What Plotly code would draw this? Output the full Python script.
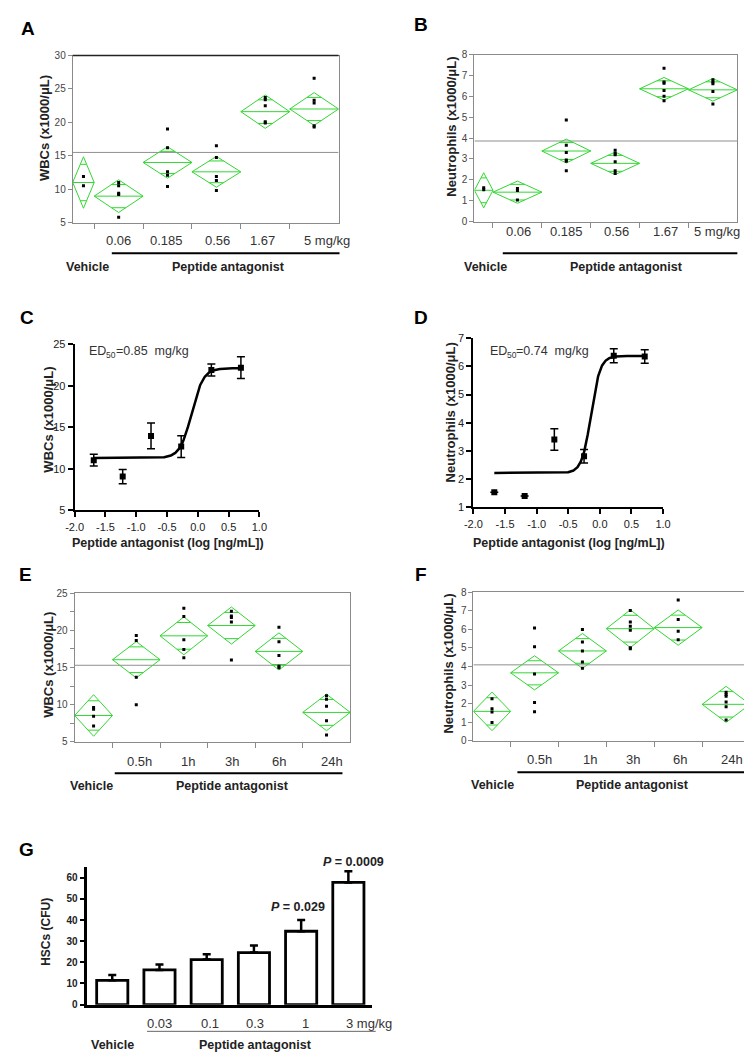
import numpy as np
import plotly.graph_objects as go

W, H = 752, 1058
FONT = "Arial, Liberation Sans, sans-serif"
NARROW = "Liberation Sans Narrow, Arial Narrow, Liberation Sans, sans-serif"
GREEN = "#33d633"

# ------------------------------------------------------------------ data
# Panel A: WBCs by dose (means diamonds)
A_LABELS = ["0.06", "0.185", "0.56", "1.67", "5 mg/kg"]
A_MEANS = [11.0, 8.96, 14.0, 12.6, 21.6, 22.0]
A_CI = [3.85, 2.45, 2.35, 2.3, 2.5, 2.45]
A_POINTS = [[11.9, 10.5], [11.0, 10.5, 9.4, 9.2, 5.8], [19.0, 16.2, 12.6, 12.1, 10.4],
            [16.5, 14.75, 11.9, 11.3, 9.8], [23.7, 23.4, 22.5, 20.1, 19.9],
            [26.6, 23.3, 22.9, 19.5, 19.3]]
A_GRAND = 15.5
A_YTICKS = [5, 10, 15, 20, 25, 30]

# Panel B: Neutrophils by dose
B_LABELS = ["0.06", "0.185", "0.56", "1.67", "5 mg/kg"]
B_MEANS = [1.50, 1.41, 3.38, 2.79, 6.36, 6.31]
B_CI = [0.84, 0.53, 0.57, 0.54, 0.54, 0.54]
B_POINTS = [[1.62, 1.52], [1.58, 1.49, 1.03], [4.86, 3.66, 3.31, 2.95, 2.89, 2.43],
            [3.42, 3.27, 3.2, 2.87, 2.43, 2.3], [7.34, 6.69, 6.63, 6.28, 6.0, 5.79],
            [6.79, 6.68, 6.6, 6.23, 5.63]]
B_GRAND = 3.86
B_YTICKS = [0, 1, 2, 3, 4, 5, 6, 7, 8]

# Panel C: WBC dose response
C_X = [-1.69, -1.22, -0.76, -0.27, 0.22, 0.70]
C_Y = [11.04, 9.06, 13.95, 12.67, 21.9, 22.18]
C_SEM = [0.7, 0.85, 1.55, 1.3, 0.73, 1.32]
C_FIT = dict(bottom=11.3, top=22.1, logec50=-0.10, hill=4.6)
C_ED50 = "0.85"
C_YTICKS = [5, 10, 15, 20, 25]

# Panel D: Neutrophil dose response (first two points show no visible error bar)
D_X = [-1.67, -1.19, -0.72, -0.25, 0.22, 0.71]
D_Y = [1.54, 1.40, 3.41, 2.81, 6.38, 6.35]
D_SEM = [None, None, 0.38, 0.24, 0.25, 0.24]
D_FIT = dict(bottom=2.22, top=6.37, logec50=-0.14, hill=6.0)
D_ED50 = "0.74"
D_YTICKS = [1, 2, 3, 4, 5, 6, 7]

LOG_XTICKS = [-2.0, -1.5, -1.0, -0.5, 0.0, 0.5, 1.0]

# Panel E: WBCs time course
E_LABELS = ["0.5h", "1h", "3h", "6h", "24h"]
E_MEANS = [8.53, 16.05, 19.27, 20.66, 17.17, 8.94]
E_CI = [2.8, 2.45, 2.55, 2.5, 2.5, 2.46]
E_POINTS = [[9.6, 9.38, 8.44, 7.1], [19.3, 18.65, 13.7, 9.97], [23.0, 21.87, 18.74, 17.44, 16.3],
            [22.6, 21.96, 21.73, 21.15, 16.0], [20.44, 18.47, 16.63, 15.16, 14.98],
            [11.2, 10.73, 9.79, 7.82, 5.9]]
E_GRAND = 15.3
E_YTICKS = [5, 10, 15, 20, 25]
E_MINOR_STEP = 2.5

# Panel F: Neutrophils time course
F_LABELS = ["0.5h", "1h", "3h", "6h", "24h"]
F_MEANS = [1.58, 3.66, 4.84, 6.04, 6.1, 1.96]
F_CI = [1.04, 0.92, 0.94, 1.02, 0.95, 0.97]
F_POINTS = [[2.26, 1.72, 1.55, 0.98], [6.08, 5.07, 3.6, 2.06, 1.56], [6.0, 5.32, 4.84, 4.25, 3.91],
            [7.02, 6.4, 6.17, 5.96, 5.01, 4.96], [7.59, 6.54, 5.9, 5.45],
            [2.61, 2.49, 2.4, 2.08, 1.83, 1.12]]
F_GRAND = 4.09
F_YTICKS = [0, 1, 2, 3, 4, 5, 6, 7, 8]

# Panel G: HSCs bar chart
G_LABELS = ["0.03", "0.1", "0.3", "1", "3 mg/kg"]
G_MEANS = [11.5, 16.4, 21.3, 24.6, 34.7, 57.8]
G_ERR = [2.5, 2.6, 2.5, 3.4, 5.3, 5.3]
G_YTICKS = [0, 10, 20, 30, 40, 50, 60]
G_PVALUES = ["0.029", "0.0009"]

# ------------------------------------------------------------------ layout constants (pixels)
A_BOX, A_W = (57, 42, 329, 211), [22, 50, 50, 50, 50, 50]
B_BOX, B_W = (468, 41, 737, 210), [19, 50, 50, 50, 50, 50]
C_BOX = (59, 334, 248, 502)
D_BOX = (467, 328, 661, 499)
E_BOX, E_W = (59, 586, 341, 736), [38.7, 48.66, 48.66, 48.66, 48.66, 48.66]
F_BOX, F_W = (467, 585, 750, 735), [38, 49, 49, 49, 49, 49]
G_BOX = (72, 863, 363, 1002)

fig = go.Figure()
axes = {}
annotations = []
shapes = []


def px(x):
    return x / W


def py(y):
    return 1 - y / H


def ann(text, x, y, size=12, color="#222", bold=False, angle=0, xanchor="center",
        yanchor="middle", family=FONT):
    if bold:
        text = f"<b>{text}</b>"
    annotations.append(dict(text=text, x=px(x), y=py(y), xref="paper", yref="paper",
                            showarrow=False, textangle=angle, xanchor=xanchor, yanchor=yanchor,
                            font=dict(size=size, color=color, family=family)))


def hline(x0, x1, y, color="black", width=2):
    shapes.append(dict(type="line", xref="paper", yref="paper", x0=px(x0), x1=px(x1),
                       y0=py(y), y1=py(y), line=dict(color=color, width=width)))


def names(idx):
    key = "" if idx == 1 else str(idx)
    return "x" + key, "y" + key, "xaxis" + key, "yaxis" + key


def diamond_panel(idx, box, widths, means, ci, points, grand, yrange, ytickvals, minor_step=None):
    xs, ys, xk, yk = names(idx)
    b = np.concatenate([[0.0], np.cumsum(widths)])
    k = 1 / np.sqrt(2)
    dx, dy, ptx, pty = [], [], [], []
    for i, (m, h) in enumerate(zip(means, ci)):
        l, r = b[i], b[i + 1]
        c, hw = (l + r) / 2, (r - l) / 2
        dx += [l, c, r, c, l, None, l, r, None]
        dy += [m, m + h, m, m - h, m, None, m, m, None]
        ow = hw * (1 - k)
        for s in (1, -1):
            dx += [c - ow, c + ow, None]
            dy += [m + s * h * k, m + s * h * k, None]
        for v in points[i]:
            ptx.append(c)
            pty.append(v)
    fig.add_trace(go.Scatter(x=[0, b[-1]], y=[grand, grand], mode="lines",
                             line=dict(color="#8f8f8f", width=1), xaxis=xs, yaxis=ys, hoverinfo="skip"))
    fig.add_trace(go.Scatter(x=dx, y=dy, mode="lines", line=dict(color=GREEN, width=1),
                             xaxis=xs, yaxis=ys, hoverinfo="skip"))
    fig.add_trace(go.Scatter(x=ptx, y=pty, mode="markers",
                             marker=dict(symbol="square", size=3, color="black"), xaxis=xs, yaxis=ys))
    x0, y0, x1, y1 = box
    axes[xk] = dict(domain=[px(x0), px(x1)], range=[0, b[-1]], anchor=ys, showline=True, mirror=True,
                    linecolor="#8a8a8a", linewidth=1, ticks="outside", ticklen=5, tickcolor="#8a8a8a",
                    tickvals=list(b[1:-1]), showticklabels=False, showgrid=False, zeroline=False)
    ya = dict(domain=[py(y1), py(y0)], range=yrange, anchor=xs, showline=True, mirror=True,
              linecolor="#8a8a8a", linewidth=1, ticks="outside", ticklen=4, tickcolor="#8a8a8a",
              tickvals=ytickvals, ticktext=[str(v) for v in ytickvals],
              tickfont=dict(size=10, color="#444", family=FONT), showgrid=False, zeroline=False)
    if minor_step:
        ya["minor"] = dict(tick0=yrange[0], dtick=minor_step, ticks="outside", ticklen=4,
                           tickcolor="#8a8a8a", showgrid=False)
    axes[yk] = ya


def dose_panel(idx, box, x, y, sem, fit, yrange, ytickvals):
    xs, ys, xk, yk = names(idx)
    xc = np.linspace(min(x), max(x), 400)
    yc = fit["bottom"] + (fit["top"] - fit["bottom"]) / (1 + 10 ** ((fit["logec50"] - xc) * fit["hill"]))
    fig.add_trace(go.Scatter(x=xc, y=yc, mode="lines", line=dict(color="black", width=2.5),
                             xaxis=xs, yaxis=ys, hoverinfo="skip"))
    fig.add_trace(go.Scatter(x=x, y=y, mode="markers", marker=dict(symbol="square", size=6, color="black"),
                             error_y=dict(type="data", array=sem, visible=True, color="black",
                                          thickness=1.5, width=4), xaxis=xs, yaxis=ys))
    x0, y0, x1, y1 = box
    tf = dict(size=11, color="#222", family=NARROW)
    axes[xk] = dict(domain=[px(x0), px(x1)], range=[-2, 1], anchor=ys, showline=True, linecolor="black",
                    linewidth=2, ticks="outside", ticklen=5, tickwidth=2, tickcolor="black",
                    tickvals=LOG_XTICKS, ticktext=[f"{v:.1f}" for v in LOG_XTICKS], tickfont=tf,
                    showgrid=False, zeroline=False)
    axes[yk] = dict(domain=[py(y1), py(y0)], range=yrange, anchor=xs, showline=True, linecolor="black",
                    linewidth=2, ticks="outside", ticklen=5, tickwidth=2, tickcolor="black",
                    tickvals=ytickvals, ticktext=[str(v) for v in ytickvals], tickfont=tf,
                    showgrid=False, zeroline=False)


def ed50_label(x, y, value):
    # "ED" + subscript "50" + "=value  mg/kg", built from plain text pieces
    ann("ED", x, y, size=12.5, color="#333", xanchor="left")
    ann("50", x + 17.5, y + 3.5, size=8.5, color="#333", xanchor="left")
    ann(f"={value}  mg/kg", x + 27, y, size=12.5, color="#333", xanchor="left")


# ------------------------------------------------------------------ panels
diamond_panel(1, A_BOX, A_W, A_MEANS, A_CI, A_POINTS, A_GRAND, [5, 30], A_YTICKS)
diamond_panel(2, B_BOX, B_W, B_MEANS, B_CI, B_POINTS, B_GRAND, [0, 8], B_YTICKS)
dose_panel(3, C_BOX, C_X, C_Y, C_SEM, C_FIT, [5, 25], C_YTICKS)
dose_panel(4, D_BOX, D_X, D_Y, D_SEM, D_FIT, [1, 7], D_YTICKS)
diamond_panel(5, E_BOX, E_W, E_MEANS, E_CI, E_POINTS, E_GRAND, [5, 25], E_YTICKS, E_MINOR_STEP)
diamond_panel(6, F_BOX, F_W, F_MEANS, F_CI, F_POINTS, F_GRAND, [0, 8], F_YTICKS)

# Panel G bars
fig.add_trace(go.Bar(x=list(range(len(G_MEANS))), y=G_MEANS, width=0.66,
                     marker=dict(color="white", line=dict(color="black", width=2.8)),
                     error_y=dict(type="data", symmetric=False, array=G_ERR, arrayminus=[0] * len(G_ERR),
                                  color="black", thickness=2.5, width=4),
                     xaxis="x7", yaxis="y7"))
gx0, gy0, gx1, gy1 = G_BOX
axes["xaxis7"] = dict(domain=[px(gx0), px(gx1)], range=[-0.527, 5.496], anchor="y7", showline=True,
                      linecolor="black", linewidth=2.5, ticks="", showticklabels=False,
                      showgrid=False, zeroline=False)
axes["yaxis7"] = dict(domain=[py(gy1), py(gy0)], range=[0, 65], anchor="x7", showline=True,
                      linecolor="black", linewidth=2.5, ticks="outside", ticklen=5, tickwidth=2,
                      tickcolor="black", tickvals=G_YTICKS, ticktext=[str(v) for v in G_YTICKS],
                      tickfont=dict(size=10, color="#222", family=FONT, weight="bold"),
                      showgrid=False, zeroline=False)

# top border of A is drawn dark
hline(57, 329, 42, color="#222", width=1.5)

# ------------------------------------------------------------------ texts
for t, x, y in [("A", 11, 15), ("B", 413, 11), ("C", 10, 307), ("D", 413, 307),
                ("E", 9, 567), ("F", 413, 567), ("G", 10, 845)]:
    ann(t, x, y, size=19, color="black", bold=True)

ann("WBCs (x1000/μL)", 28, 115, size=13, bold=True, angle=-90)
ann("Neutrophils (x1000/μL)", 445, 114, size=13, bold=True, angle=-90)
ann("WBCs (x1000/μL)", 32, 410, size=13, bold=True, angle=-90)
ann("Neutrophils (x1000/μL)", 443, 403, size=13, bold=True, angle=-90)
ann("WBCs (x1000/μL)", 32, 658, size=13, bold=True, angle=-90)
ann("Neutrophils (x1000/μL)", 442, 657, size=13, bold=True, angle=-90)
ann("HSCs (CFU)", 30, 928, size=12, bold=True, angle=-90)

# A labels
for t, x in zip(A_LABELS, [104, 153, 205, 251, 317]):
    ann(t, x, 229, size=13, color="#333")
hline(97, 330, 242)
ann("Vehicle", 72, 256, size=12.5, bold=True)
ann("Peptide antagonist", 216, 256, size=12.5, bold=True)

# B labels
for t, x in zip(B_LABELS, [513, 562, 613, 664, 716]):
    ann(t, x, 220, size=13, color="#333")
hline(497, 737, 242)
ann("Vehicle", 479, 256, size=12.5, bold=True)
ann("Peptide antagonist", 624, 256, size=12.5, bold=True)

# C / D
ed50_label(72, 341, C_ED50)
ed50_label(482, 341, D_ED50)
ann("Peptide antagonist (log [ng/mL])", 154, 535, size=12.5, bold=True)
ann("Peptide antagonist (log [ng/mL])", 565, 535, size=12.5, bold=True)

# E labels
for t, x in zip(E_LABELS, [125, 175, 220, 268, 322]):
    ann(t, x, 756, size=13, color="#333")
hline(100, 333, 768)
ann("Vehicle", 76, 781, size=12.5, bold=True)
ann("Peptide antagonist", 220, 781, size=12.5, bold=True)

# F labels
for t, x in zip(F_LABELS, [535, 586, 630, 678, 732]):
    ann(t, x, 754, size=13, color="#333")
hline(512, 745, 767)
ann("Vehicle", 487, 780, size=12.5, bold=True)
ann("Peptide antagonist", 630, 780, size=12.5, bold=True)

# G labels
for t, x in zip(G_LABELS[:-1], [146, 197, 244, 295]):
    ann(t, x, 1021, size=13, color="#333")
ann(G_LABELS[-1], 335, 1021, size=13, color="#333", xanchor="left")
hline(133, 367, 1029, color="#666", width=1)
ann("Vehicle", 98, 1043, size=12.5, bold=True)
ann("Peptide antagonist", 244, 1043, size=12.5, bold=True)
ann(f"<b><i>P</i> = {G_PVALUES[0]}</b>", 287, 903, size=12.5, color="#222")
ann(f"<b><i>P</i> = {G_PVALUES[1]}</b>", 344, 858, size=12.5, color="#222")

fig.update_layout(width=W, height=H, autosize=False, margin=dict(l=0, r=0, t=0, b=0),
                  paper_bgcolor="white", plot_bgcolor="white", showlegend=False,
                  font=dict(family=FONT), annotations=annotations, shapes=shapes, **axes)

fig.write_html("out.html")
